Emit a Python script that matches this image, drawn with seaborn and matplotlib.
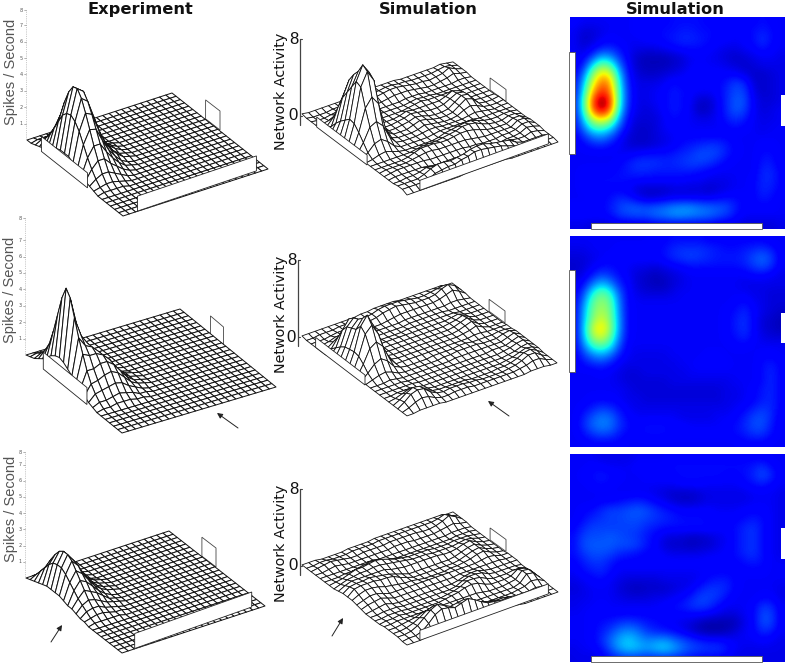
import numpy as np
import matplotlib
matplotlib.use("Agg")
import matplotlib.pyplot as plt
from matplotlib.collections import PolyCollection
from matplotlib.patches import Polygon, Rectangle
import seaborn as sns

sns.set_theme(style="white")
plt.rcParams['font.family'] = ['DejaVu Sans']

W, H = 787, 665

# -----------------------------
# Activity maps, in tenths of a unit (rows: top to bottom, cols: left to right)
# -----------------------------
sim_top = [
    [9, 8, 8, 8, 8, 8, 8, 9, 9, 9, 9, 10, 10, 10, 10, 9, 9, 9, 9, 9, 9, 10, 9, 8],
    [8, 6, 6, 7, 8, 8, 8, 9, 9, 9, 10, 10, 11, 11, 10, 10, 9, 9, 9, 9, 10, 11, 10, 8],
    [8, 5, 6, 8, 9, 8, 8, 8, 9, 9, 10, 11, 12, 12, 11, 10, 9, 9, 8, 9, 10, 13, 10, 8],
    [8, 6, 8, 11, 12, 10, 8, 7, 7, 7, 8, 9, 10, 10, 10, 9, 8, 7, 7, 8, 9, 11, 9, 8],
    [8, 8, 14, 22, 20, 13, 8, 5, 4, 4, 4, 5, 6, 8, 8, 8, 7, 6, 5, 6, 7, 8, 8, 7],
    [8, 11, 26, 38, 34, 18, 9, 5, 4, 4, 4, 5, 6, 8, 9, 8, 8, 7, 6, 5, 6, 7, 7, 7],
    [8, 17, 38, 52, 48, 24, 10, 6, 5, 5, 6, 7, 8, 9, 10, 9, 9, 9, 9, 7, 5, 5, 6, 7],
    [9, 22, 46, 60, 56, 28, 11, 7, 7, 7, 8, 10, 9, 9, 9, 9, 9, 11, 14, 12, 6, 5, 6, 7],
    [9, 26, 54, 66, 60, 30, 12, 7, 7, 8, 9, 11, 10, 9, 8, 8, 9, 12, 15, 14, 7, 5, 6, 7],
    [10, 30, 62, 75, 66, 30, 12, 7, 7, 8, 9, 11, 10, 8, 5, 5, 8, 12, 16, 15, 8, 6, 6, 7],
    [10, 29, 60, 72, 62, 27, 11, 7, 6, 7, 9, 11, 10, 8, 4, 5, 8, 12, 16, 14, 8, 6, 7, 8],
    [9, 24, 44, 52, 44, 21, 9, 6, 6, 6, 8, 10, 9, 8, 7, 7, 8, 11, 13, 11, 8, 7, 7, 8],
    [9, 18, 30, 33, 27, 15, 8, 5, 5, 6, 8, 9, 9, 8, 8, 8, 8, 9, 10, 9, 8, 7, 8, 8],
    [8, 12, 18, 20, 16, 10, 6, 5, 5, 6, 7, 8, 9, 9, 9, 9, 9, 9, 8, 8, 8, 8, 8, 8],
    [8, 9, 11, 12, 10, 8, 6, 5, 5, 6, 7, 8, 10, 11, 12, 13, 13, 11, 9, 8, 8, 9, 9, 8],
    [8, 8, 8, 8, 8, 8, 8, 9, 10, 10, 10, 11, 12, 13, 15, 15, 14, 11, 9, 8, 8, 10, 10, 8],
    [8, 8, 8, 8, 8, 9, 11, 13, 13, 13, 12, 12, 13, 14, 14, 13, 11, 9, 8, 8, 8, 11, 11, 8],
    [8, 9, 9, 9, 9, 10, 11, 12, 12, 11, 11, 11, 11, 11, 10, 9, 8, 8, 8, 8, 8, 12, 12, 9],
    [8, 9, 10, 10, 10, 10, 10, 9, 9, 9, 9, 9, 9, 8, 8, 7, 7, 7, 8, 8, 9, 12, 12, 9],
    [8, 9, 9, 9, 9, 9, 8, 6, 5, 5, 5, 6, 6, 6, 6, 5, 6, 7, 8, 8, 9, 12, 11, 9],
    [8, 8, 9, 9, 10, 12, 11, 8, 6, 6, 7, 8, 8, 8, 8, 8, 9, 10, 10, 9, 9, 11, 10, 8],
    [9, 9, 9, 9, 11, 14, 16, 16, 15, 16, 17, 19, 20, 20, 18, 17, 16, 15, 11, 9, 9, 9, 9, 8],
    [9, 9, 9, 9, 10, 13, 14, 15, 15, 17, 18, 20, 20, 19, 18, 17, 15, 13, 10, 8, 8, 8, 8, 8],
    [7, 7, 6, 6, 6, 7, 7, 7, 7, 8, 8, 8, 8, 8, 8, 8, 7, 7, 7, 6, 6, 6, 6, 7],
]

sim_mid = [
    [8, 8, 8, 8, 8, 8, 8, 8, 8, 9, 9, 10, 10, 10, 10, 9, 9, 9, 9, 9, 9, 9, 8, 8],
    [7, 7, 8, 8, 8, 9, 9, 9, 9, 9, 10, 12, 13, 13, 13, 12, 11, 10, 10, 11, 12, 13, 11, 8],
    [6, 6, 7, 8, 9, 9, 9, 9, 9, 9, 10, 12, 13, 14, 13, 12, 11, 11, 11, 12, 15, 17, 14, 8],
    [5, 6, 8, 10, 10, 9, 8, 7, 7, 6, 7, 8, 9, 10, 10, 10, 10, 10, 10, 11, 13, 15, 12, 8],
    [6, 7, 11, 15, 13, 10, 8, 6, 5, 4, 5, 6, 7, 8, 8, 8, 8, 8, 8, 8, 9, 9, 8, 7],
    [7, 10, 18, 24, 20, 12, 9, 6, 5, 4, 4, 6, 7, 8, 8, 8, 8, 8, 8, 7, 7, 7, 7, 7],
    [8, 14, 28, 36, 30, 16, 9, 7, 6, 6, 6, 7, 8, 8, 8, 8, 8, 8, 8, 8, 7, 7, 6, 6],
    [8, 18, 34, 40, 35, 18, 9, 8, 8, 8, 8, 8, 8, 8, 8, 8, 8, 8, 9, 10, 8, 7, 6, 6],
    [8, 21, 36, 42, 37, 19, 9, 8, 8, 8, 8, 8, 8, 8, 8, 8, 8, 9, 10, 12, 9, 7, 6, 5],
    [8, 22, 38, 46, 38, 20, 9, 8, 8, 8, 8, 8, 8, 8, 8, 8, 8, 9, 11, 13, 9, 6, 5, 4],
    [8, 23, 44, 52, 40, 20, 9, 8, 8, 8, 8, 8, 8, 8, 8, 8, 8, 9, 11, 13, 9, 6, 5, 4],
    [8, 22, 40, 46, 36, 18, 9, 8, 8, 8, 8, 8, 8, 8, 8, 8, 8, 9, 10, 12, 9, 7, 6, 6],
    [8, 18, 30, 34, 28, 15, 8, 8, 8, 8, 8, 8, 8, 8, 8, 8, 8, 8, 9, 9, 8, 8, 8, 8],
    [8, 13, 19, 22, 18, 11, 8, 7, 7, 7, 7, 8, 8, 8, 8, 9, 9, 8, 8, 8, 8, 9, 9, 8],
    [8, 10, 12, 13, 11, 8, 7, 7, 7, 7, 7, 7, 8, 8, 9, 9, 9, 9, 8, 8, 8, 10, 11, 9],
    [8, 8, 8, 9, 8, 7, 6, 6, 7, 7, 7, 7, 7, 8, 8, 8, 8, 8, 8, 8, 8, 10, 12, 9],
    [8, 8, 8, 8, 8, 7, 6, 6, 6, 6, 6, 7, 7, 7, 7, 7, 7, 7, 8, 8, 8, 10, 12, 9],
    [8, 8, 8, 8, 8, 8, 7, 6, 6, 6, 6, 6, 6, 6, 6, 6, 6, 7, 7, 8, 9, 11, 12, 9],
    [8, 8, 9, 9, 9, 8, 7, 7, 6, 6, 6, 6, 6, 6, 6, 6, 6, 7, 7, 8, 9, 11, 12, 9],
    [8, 9, 11, 13, 12, 10, 8, 7, 7, 7, 7, 7, 7, 7, 7, 7, 7, 7, 8, 9, 11, 13, 12, 9],
    [8, 11, 15, 18, 17, 12, 9, 8, 8, 8, 8, 8, 7, 7, 7, 7, 8, 8, 9, 11, 14, 15, 12, 8],
    [8, 12, 17, 19, 18, 13, 10, 9, 10, 10, 10, 9, 9, 8, 8, 8, 8, 9, 10, 12, 15, 15, 11, 8],
    [8, 10, 13, 15, 14, 11, 9, 9, 10, 10, 10, 9, 9, 9, 9, 9, 9, 9, 10, 11, 13, 13, 10, 8],
    [8, 8, 9, 9, 9, 9, 8, 8, 8, 8, 8, 8, 8, 8, 8, 8, 8, 8, 8, 9, 9, 9, 8, 8],
]

sim_low = [
    [8, 8, 8, 7, 7, 7, 7, 8, 8, 8, 8, 9, 9, 9, 9, 9, 9, 9, 9, 9, 9, 9, 8, 8],
    [8, 8, 9, 9, 8, 8, 8, 9, 9, 9, 9, 10, 10, 10, 10, 10, 10, 10, 10, 10, 11, 13, 10, 8],
    [8, 9, 10, 11, 10, 9, 8, 8, 9, 9, 9, 9, 10, 10, 10, 10, 10, 9, 9, 10, 12, 15, 12, 8],
    [8, 8, 9, 10, 9, 8, 8, 8, 8, 8, 8, 8, 9, 9, 9, 8, 8, 8, 8, 9, 10, 11, 9, 8],
    [8, 8, 8, 8, 8, 8, 8, 8, 8, 7, 6, 5, 5, 5, 6, 7, 7, 7, 7, 7, 8, 8, 8, 7],
    [8, 8, 8, 9, 9, 10, 11, 12, 11, 9, 8, 6, 5, 5, 6, 7, 7, 7, 7, 7, 8, 8, 8, 7],
    [8, 9, 10, 12, 14, 14, 15, 16, 15, 13, 11, 10, 9, 9, 9, 9, 8, 8, 8, 9, 9, 9, 8, 7],
    [8, 10, 12, 13, 14, 14, 15, 15, 14, 13, 12, 11, 10, 10, 10, 9, 9, 9, 9, 10, 11, 10, 8, 7],
    [9, 12, 14, 14, 14, 14, 14, 14, 12, 11, 10, 10, 10, 10, 10, 10, 9, 9, 10, 12, 13, 10, 8, 7],
    [10, 14, 15, 15, 16, 15, 14, 13, 11, 9, 7, 6, 6, 5, 5, 6, 7, 8, 10, 12, 13, 10, 8, 7],
    [10, 15, 16, 16, 16, 15, 15, 14, 11, 9, 6, 5, 5, 4, 5, 5, 7, 8, 10, 12, 13, 10, 8, 7],
    [10, 13, 15, 15, 14, 12, 11, 10, 9, 9, 8, 7, 7, 7, 7, 8, 8, 9, 10, 12, 13, 10, 8, 7],
    [9, 11, 13, 13, 11, 9, 9, 9, 9, 9, 9, 9, 9, 9, 9, 9, 9, 9, 9, 10, 11, 10, 8, 8],
    [8, 10, 11, 12, 10, 8, 8, 8, 8, 8, 8, 8, 8, 8, 8, 9, 9, 9, 9, 9, 9, 9, 8, 8],
    [7, 8, 9, 10, 8, 7, 6, 6, 6, 6, 7, 7, 7, 7, 8, 10, 11, 11, 9, 8, 8, 8, 8, 8],
    [6, 7, 8, 8, 8, 6, 5, 4, 5, 5, 5, 6, 7, 8, 11, 13, 13, 12, 9, 8, 8, 8, 8, 7],
    [7, 7, 8, 8, 8, 7, 6, 6, 6, 7, 7, 8, 9, 11, 14, 14, 13, 10, 8, 8, 8, 9, 9, 7],
    [7, 8, 8, 9, 8, 8, 8, 8, 8, 8, 9, 10, 11, 13, 14, 13, 10, 8, 8, 8, 9, 13, 12, 8],
    [8, 8, 9, 9, 9, 9, 9, 9, 9, 9, 9, 9, 9, 9, 9, 8, 7, 6, 6, 8, 9, 15, 14, 8],
    [8, 8, 9, 10, 11, 13, 14, 13, 11, 10, 9, 8, 7, 6, 4, 3, 3, 3, 4, 7, 9, 15, 14, 8],
    [8, 8, 9, 11, 14, 18, 20, 18, 14, 12, 11, 10, 8, 6, 4, 3, 3, 4, 6, 8, 9, 12, 11, 8],
    [8, 8, 9, 12, 17, 22, 25, 22, 19, 20, 21, 18, 15, 13, 11, 10, 10, 9, 8, 8, 8, 9, 8, 7],
    [7, 8, 8, 10, 15, 21, 24, 23, 21, 23, 25, 22, 18, 15, 14, 13, 13, 11, 8, 7, 7, 7, 7, 7],
    [7, 7, 7, 8, 10, 12, 13, 13, 12, 12, 12, 12, 11, 10, 9, 9, 9, 8, 7, 7, 7, 7, 7, 7],
]

# Recorded firing rate near the wall, tenths of spikes/s (rest of the floor is zero)
exp_top = [
    [0, 0, 0, 0, 0, 0, 0, 0, 0, 0],
    [0, 1, 1, 1, 0, 0, 0, 0, 0, 0],
    [1, 3, 4, 4, 2, 1, 0, 0, 0, 0],
    [2, 6, 9, 8, 5, 3, 1, 0, 0, 0],
    [3, 10, 15, 14, 9, 6, 3, 1, 0, 0],
    [5, 16, 23, 22, 15, 9, 5, 2, 1, 0],
    [7, 22, 33, 31, 21, 13, 7, 3, 1, 0],
    [9, 28, 41, 38, 26, 16, 9, 5, 2, 1],
    [10, 31, 46, 43, 30, 18, 10, 6, 3, 1],
    [10, 32, 47, 44, 31, 19, 11, 6, 3, 1],
    [10, 30, 43, 40, 29, 18, 10, 5, 2, 1],
    [8, 26, 36, 34, 24, 15, 9, 5, 2, 1],
    [6, 20, 28, 27, 19, 12, 7, 3, 1, 0],
    [4, 14, 20, 20, 14, 9, 5, 2, 1, 0],
    [3, 9, 13, 13, 9, 6, 3, 1, 0, 0],
    [2, 5, 7, 7, 5, 3, 1, 0, 0, 0],
    [1, 2, 3, 3, 2, 1, 0, 0, 0, 0],
    [0, 1, 1, 1, 1, 0, 0, 0, 0, 0],
]

exp_mid = [
    [0, 0, 0, 0, 0, 0, 0, 0, 0, 0],
    [1, 2, 1, 0, 0, 0, 0, 0, 0, 0],
    [2, 4, 3, 1, 0, 0, 0, 0, 0, 0],
    [4, 8, 5, 2, 1, 0, 0, 0, 0, 0],
    [6, 14, 9, 4, 2, 1, 0, 0, 0, 0],
    [9, 24, 15, 7, 3, 1, 0, 0, 0, 0],
    [12, 36, 22, 10, 5, 2, 1, 0, 0, 0],
    [14, 48, 30, 14, 7, 3, 1, 0, 0, 0],
    [15, 56, 34, 18, 10, 5, 2, 1, 0, 0],
    [14, 52, 34, 22, 14, 8, 4, 2, 1, 0],
    [12, 42, 30, 24, 18, 12, 7, 3, 1, 0],
    [10, 32, 26, 24, 20, 15, 9, 4, 2, 1],
    [8, 24, 22, 22, 20, 16, 10, 5, 2, 1],
    [6, 16, 16, 18, 18, 15, 10, 5, 2, 1],
    [4, 10, 11, 13, 14, 12, 8, 4, 2, 1],
    [2, 6, 7, 8, 9, 8, 5, 3, 1, 0],
    [1, 3, 3, 4, 5, 4, 3, 1, 1, 0],
    [0, 1, 1, 2, 2, 2, 1, 1, 0, 0],
]

exp_low = [
    [0, 0, 0, 0, 0, 0, 0, 0, 0, 0],
    [1, 3, 4, 3, 2, 1, 0, 0, 0, 0],
    [2, 7, 9, 7, 4, 2, 1, 0, 0, 0],
    [3, 11, 15, 12, 7, 4, 2, 1, 0, 0],
    [4, 15, 20, 16, 10, 6, 3, 1, 0, 0],
    [5, 18, 24, 20, 12, 7, 3, 1, 0, 0],
    [5, 19, 26, 21, 13, 8, 4, 2, 1, 0],
    [5, 19, 26, 21, 14, 8, 4, 2, 1, 0],
    [5, 17, 24, 20, 13, 8, 4, 2, 1, 0],
    [4, 14, 20, 17, 12, 7, 4, 2, 1, 0],
    [3, 11, 16, 14, 10, 6, 3, 1, 0, 0],
    [3, 8, 12, 10, 8, 5, 2, 1, 0, 0],
    [2, 6, 8, 7, 5, 3, 2, 1, 0, 0],
    [1, 4, 5, 5, 3, 2, 1, 0, 0, 0],
    [1, 2, 3, 3, 2, 1, 1, 0, 0, 0],
    [0, 1, 1, 1, 1, 1, 0, 0, 0, 0],
    [0, 0, 0, 0, 0, 0, 0, 0, 0, 0],
    [0, 0, 0, 0, 0, 0, 0, 0, 0, 0],
]

column_titles = ["Experiment", "Simulation", "Simulation"]
exp_ylabel = "Spikes / Second"
sim_ylabel = "Network Activity"
exp_ticks = [1, 2, 3, 4, 5, 6, 7, 8]
sim_ticks = [0, 8]


# -----------------------------
# Layout in image pixels
# -----------------------------
def full_grid(block):
    grid = np.zeros((24, 24))
    block = np.array(block) / 10
    grid[:block.shape[0], :block.shape[1]] = block
    return grid


def sim_surface(block):
    return np.clip(np.array(block) / 10 - 0.7, 0, None) * 1.15


# left, top, right, bottom corners of each floor and px per unit of height
exp_panels = [
    dict(z=full_grid(exp_top), L=(27, 140), T=(172, 93), R=(268, 167), B=(123, 216), scale=16.4,
         side=(0.15, 0.63), front=(0.10, 0.92), wall_h=15, back_h=19,
         label_y=72, label_x=11, eight=10),
    dict(z=full_grid(exp_mid), L=(26, 355), T=(180, 309), R=(267, 383), B=(122, 433), scale=16.4,
         side=(0.18, 0.635), front=None, wall_h=17, back_h=19,
         label_y=290, label_x=10, eight=218, arrow=((238, 428), (217, 413))),
    dict(z=full_grid(exp_low), L=(26, 578), T=(169, 531), R=(263, 603), B=(122, 653), scale=16.2,
         side=None, front=(0.09, 0.92), wall_h=15, back_h=19,
         label_y=509, label_x=11, eight=452, arrow=((51, 642), (62, 625))),
]

sim_panels = [
    dict(z=sim_surface(sim_top), L=(302, 116), T=(453, 63), R=(559, 140), B=(407, 195), scale=9.6,
         side=(0.14, 0.62), front=(0.085, 0.93), wall_h=10, back_h=12,
         label_y=91, axis_x=300),
    dict(z=sim_surface(sim_mid), L=(302, 337), T=(452, 284), R=(558, 362), B=(407, 417), scale=9.6,
         side=(0.13, 0.60), front=None, wall_h=10, back_h=12,
         label_y=314, axis_x=298, arrow=((509, 416), (488, 401))),
    dict(z=sim_surface(sim_low), L=(302, 566), T=(453, 513), R=(559, 590), B=(407, 645), scale=9.6,
         side=None, front=(0.085, 0.93), wall_h=10, back_h=12,
         label_y=543, axis_x=300, arrow=((332, 636), (343, 618))),
]

heat_panels = [
    dict(data=sim_top, top=17, bottom=229, left_wall=(52, 154), right_wall=(95, 126), bottom_wall=(223, 229)),
    dict(data=sim_mid, top=236, bottom=447, left_wall=(270, 372), right_wall=(313, 343), bottom_wall=None),
    dict(data=sim_low, top=454, bottom=662, left_wall=None, right_wall=(528, 559), bottom_wall=(656, 662)),
]

fig = plt.figure(figsize=(W / 100, H / 100), dpi=100, facecolor="white")

# -----------------------------
# Right column: heatmaps
# -----------------------------
for p in heat_panels:
    ax = fig.add_axes([570 / W, 1 - p['bottom'] / H, 215 / W, (p['bottom'] - p['top']) / H])
    sns.heatmap(np.array(p['data']), ax=ax, cmap="jet", vmin=0, vmax=75, cbar=False,
                xticklabels=False, yticklabels=False)
    # same cells, smoothed on screen like the original map
    ax.imshow(p['data'], cmap="jet", vmin=0, vmax=75, interpolation="bicubic",
              extent=(0, 24, 24, 0), aspect="auto", zorder=2)
    ax.set_xlim(0, 24)
    ax.set_ylim(24, 0)

# Everything else goes on one overlay in pixel coordinates
ov = fig.add_axes([0, 0, 1, 1], facecolor="none")
ov.set_xlim(0, W)
ov.set_ylim(H, 0)
ov.axis("off")

for p in heat_panels:
    if p['left_wall']:
        y0, y1 = p['left_wall']
        ov.add_patch(Rectangle((569, y0), 6, y1 - y0, fc="white", ec="#555555", lw=0.6))
    if p['right_wall']:
        y0, y1 = p['right_wall']
        ov.add_patch(Rectangle((781, y0), 5, y1 - y0, fc="white", ec="none"))
    if p['bottom_wall']:
        y0, y1 = p['bottom_wall']
        ov.add_patch(Rectangle((591, y0), 171, y1 - y0, fc="white", ec="#555555", lw=0.6))


# -----------------------------
# Wireframe surfaces, painted back to front
# -----------------------------
def draw_surface(p, lw):
    z = p['z']
    n = z.shape[0]
    L, T, B, R = [np.array(p[k], float) for k in "LTBR"]
    va = T - L
    vb = B - L

    def project(r, c, height):
        pt = L + va * c / (n - 1) + vb * r / (n - 1)
        return pt[0], pt[1] - height * p['scale']

    # small wall on the far edge
    t0, t1 = 0.35, 0.50
    a, b = T + (R - T) * t0, T + (R - T) * t1
    h = p['back_h']
    ov.add_patch(Polygon([a, a - (0, h), b - (0, h), b], closed=True, fc="white",
                         ec="#444444", lw=0.6))

    verts = []
    order = sorted(((r, c) for r in range(n - 1) for c in range(n - 1)), key=lambda q: q[0] - q[1])
    for r, c in order:
        verts.append([project(r, c, z[r, c]), project(r, c + 1, z[r, c + 1]),
                      project(r + 1, c + 1, z[r + 1, c + 1]), project(r + 1, c, z[r + 1, c])])
    ov.add_collection(PolyCollection(verts, facecolors="white", edgecolors="#111111", linewidths=lw))

    h = p['wall_h']
    if p['side']:
        a, b = L + vb * p['side'][0], L + vb * p['side'][1]
        ov.add_patch(Polygon([a, a - (0, h), b - (0, h), b], closed=True, fc="white", ec="#222222", lw=0.6))
    if p['front']:
        a, b = B + (R - B) * p['front'][0], B + (R - B) * p['front'][1]
        ov.add_patch(Polygon([a, a - (0, h), b - (0, h), b], closed=True, fc="white", ec="#222222", lw=0.6))

    if 'arrow' in p:
        tail, head = p['arrow']
        ov.annotate("", xy=head, xytext=tail,
                    arrowprops=dict(arrowstyle="-|>", color="#222222", lw=0.7, mutation_scale=8,
                                    shrinkA=0, shrinkB=0))


for p in exp_panels:
    draw_surface(p, 0.7)
    x0, y0 = p['L']
    # dotted height axis with tiny tick labels
    ov.plot([x0 - 1, x0 - 1], [p['eight'], y0], color="#999999", lw=0.5, ls=":")
    for t in exp_ticks:
        y = y0 - t * p['scale'] if t < 8 else p['eight']
        ov.plot([x0 - 3, x0 - 1], [y, y], color="#777777", lw=0.4)
        ov.text(x0 - 4, y, str(t), fontsize=3.5, color="#555555", ha="right", va="center")
    ov.text(p['label_x'], p['label_y'], exp_ylabel, rotation=90, ha="center", va="center",
            family="Liberation Sans", fontsize=10.5, color="#555555")

for p in sim_panels:
    draw_surface(p, 0.6)
    x0 = p['axis_x']
    y0 = p['L'][1]
    y8 = y0 - 8 * p['scale']
    ov.plot([x0, x0], [y8, y0 + 9], color="#444444", lw=0.9)
    for t in sim_ticks:
        y = y0 - t * p['scale']
        ov.plot([x0, x0 + 2], [y, y], color="#444444", lw=0.8)
        ov.text(x0 - 2, y, str(t), fontsize=12, color="#111111", ha="right", va="center",
                family="Liberation Sans")
    ov.text(281, p['label_y'], sim_ylabel, rotation=90, ha="center", va="center",
            fontsize=10.3, color="#111111")

for x, title in zip([140, 428, 675], column_titles):
    ov.text(x, 9.5, title, ha="center", va="center", fontsize=11.7, fontweight="bold", color="#111111")

plt.savefig("out.png", dpi=100)
